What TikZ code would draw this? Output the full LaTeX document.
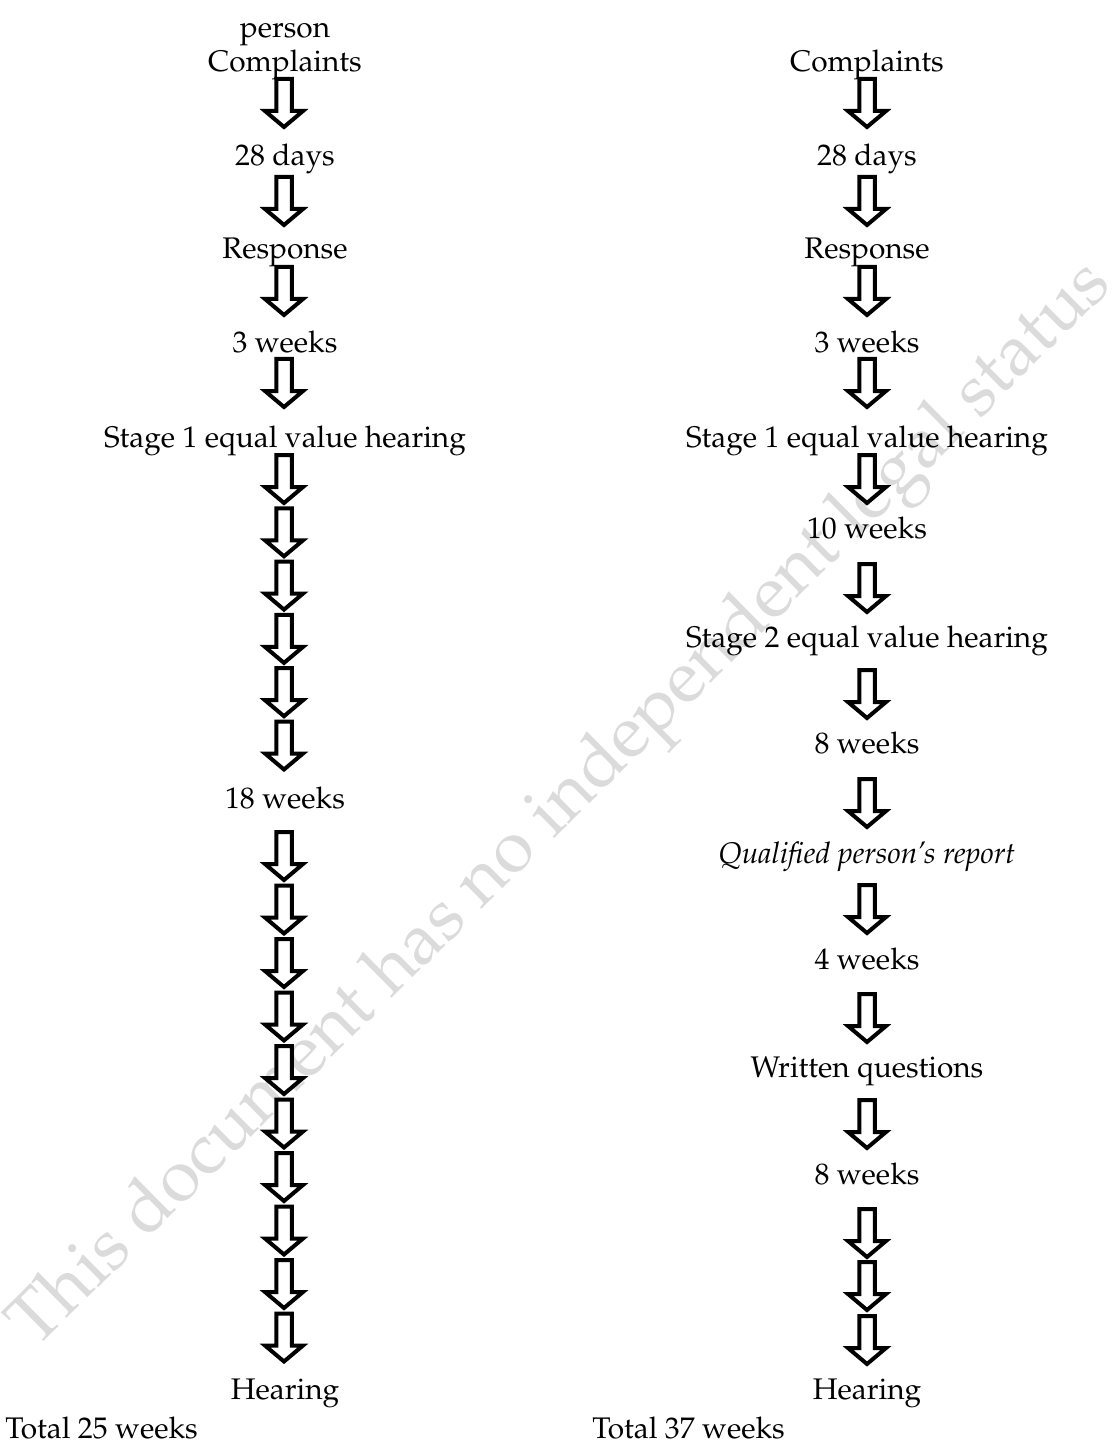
\documentclass[tikz,border=0pt]{standalone}
\usepackage[T1]{fontenc}
\usepackage{mathpazo}
\usepackage{tikz}
\usetikzlibrary{positioning}

\tikzset{
  schritt/.style={anchor=base,inner sep=0pt,font=\fontsize{14.9}{18}\selectfont},
  summe/.style={anchor=base west,inner sep=0pt,font=\fontsize{14.9}{18}\selectfont},
  pfeil/.style={draw=black,fill=white,line width=2pt,line join=miter},
  wasserzeichen/.style={anchor=base west,inner sep=0pt,text=black!14,font=\fontsize{36.3}{44}\selectfont},
  blockpfeil/.pic={
    \draw[pfeil] (-7.75,2) -- (7.75,2) -- (7.75,34) -- (19,34) -- (0,50) -- (-19,34) -- (-7.75,34) -- cycle;
  }
}

\begin{document}
\begin{tikzpicture}[x=0.5pt,y=-0.5pt]
\useasboundingbox[fill=white] (0,0) rectangle (1119,1444);
%Wasserzeichen quer ueber die Seite
\node[wasserzeichen,rotate=44.6] (wz) at (35,1350) {This document has no independent legal status};
%linke Spalte
\pgfmathsetmacro{\xl}{284}
\pgfmathsetmacro{\xr}{867}
\foreach \y in {77,175,265,357}{
  \pic at (\xl,\y) {blockpfeil};
  \pic at (\xr,\y) {blockpfeil};
}
\foreach \k in {0,...,5}{
  \pic at (\xl,453+53.3*\k) {blockpfeil};
}
\foreach \k in {0,...,9}{
  \pic at (\xl,830+53.5*\k) {blockpfeil};
}
%rechte Spalte
\foreach \y in {453,562,668,777,883,992,1098,1207,1260,1314}{
  \pic at (\xr,\y) {blockpfeil};
}
\node[schritt] (lperson) at (285,38) {person};
\node[schritt] (lkl) at (285,72) {Complaints};
\node[schritt] (ltage) at (285,166) {28 days};
\node[schritt] (lantw) at (285,259) {Response};
\node[schritt] (ldrei) at (285,352) {3 weeks};
\node[schritt] (lst1) at (285,447) {Stage 1 equal value hearing};
\node[schritt] (lachtz) at (285,808) {18 weeks};
\node[schritt] (lverh) at (285,1399) {Hearing};
\node[summe] (lsum) at (5,1438) {Total 25 weeks};

\node[schritt] (rkl) at (867,72) {Complaints};
\node[schritt] (rtage) at (867,166) {28 days};
\node[schritt] (rantw) at (867,259) {Response};
\node[schritt] (rdrei) at (867,352) {3 weeks};
\node[schritt] (rst1) at (867,447) {Stage 1 equal value hearing};
\node[schritt] (rzehn) at (867,538) {10 weeks};
\node[schritt] (rst2) at (867,647) {Stage 2 equal value hearing};
\node[schritt] (racht) at (867,753) {8 weeks};
\node[schritt] (rqp) at (867,863) {\itshape Qualified person's report};
\node[schritt] (rvier) at (867,969) {4 weeks};
\node[schritt] (rfrag) at (867,1077) {Written questions};
\node[schritt] (racht2) at (867,1184) {8 weeks};
\node[schritt] (rverh) at (867,1399) {Hearing};
\node[summe] (rsum) at (592,1438) {Total 37 weeks};
\end{tikzpicture}
\end{document}
